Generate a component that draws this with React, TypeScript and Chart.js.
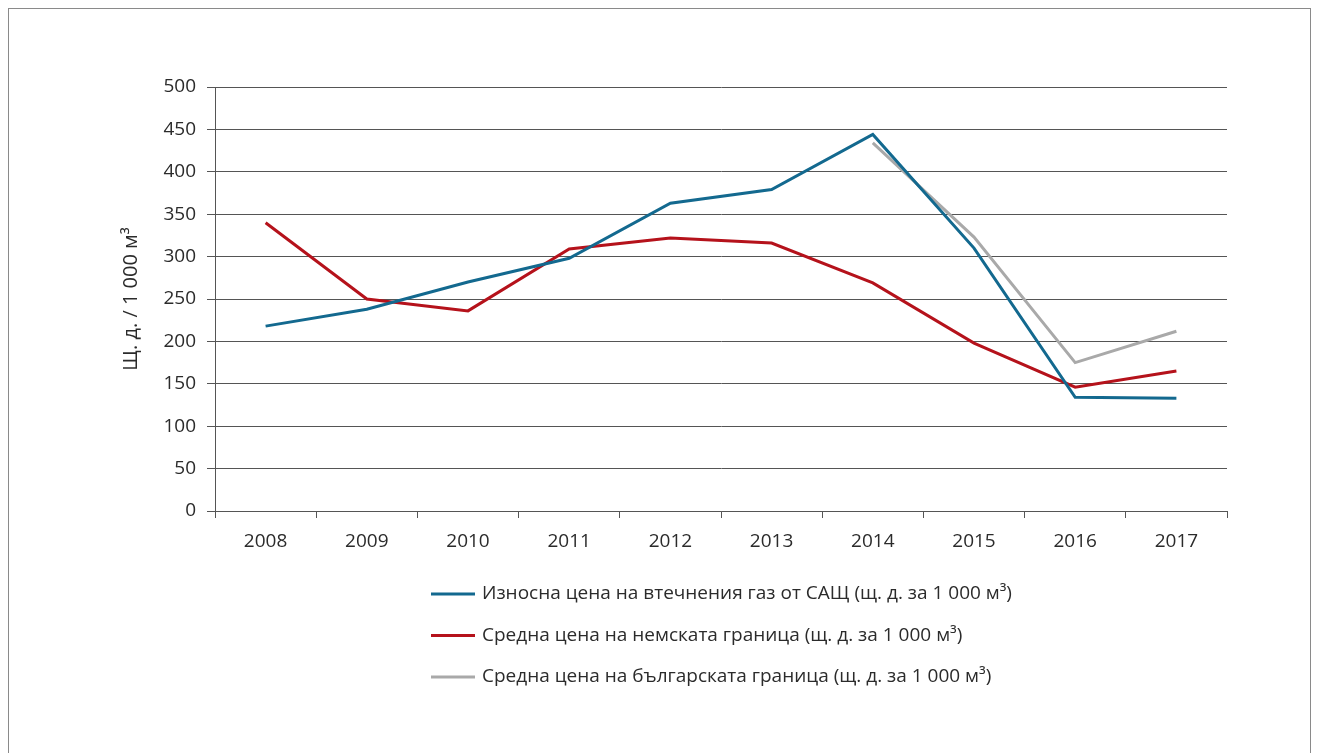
import { useEffect, useRef } from 'react';
import { Chart, registerables } from 'chart.js';

Chart.register(...registerables);

const years = ['2008', '2009', '2010', '2011', '2012', '2013', '2014', '2015', '2016', '2017'];
const usLngExport = [218, 238, 270, 298, 363, 379, 444, 310, 134, 133];
const germanBorder = [340, 250, 236, 309, 322, 316, 269, 198, 146, 165];
const bulgarianBorder = [null, null, null, null, null, null, 434, 323, 175, 212];
const seriesLabels = [
  'Износна цена на втечнения газ от САЩ (щ. д. за 1 000 м³)',
  'Средна цена на немската граница (щ. д. за 1 000 м³)',
  'Средна цена на българската граница (щ. д. за 1 000 м³)',
];
const seriesColors = ['#13698f', '#b5121b', '#a9a9a9'];
const yTitle = 'Щ. д. / 1 000 м³';
const yMin = 0;
const yMax = 500;
const yStep = 50;

const FONT = '"Open Sans", sans-serif';
const TEXT = '#2b2b2b';
const GRID = '#555555';

const W = 1301;
const H = 770;

const legendPlugin = {
  id: 'verticalLegend',
  afterDraw(chart: any) {
    const ctx = chart.ctx;
    ctx.save();
    chart.data.datasets.forEach((ds: any, i: number) => {
      const y = 585 + i * 41.5;
      ctx.strokeStyle = ds.borderColor;
      ctx.lineWidth = 3;
      ctx.beginPath();
      ctx.moveTo(422, y);
      ctx.lineTo(466, y);
      ctx.stroke();
      ctx.fillStyle = TEXT;
      ctx.font = `19px ${FONT}`;
      ctx.textBaseline = 'middle';
      ctx.textAlign = 'left';
      ctx.fillText(ds.label, 473, y);
    });
    ctx.restore();
  },
};

export default function App() {
  const ref = useRef<HTMLCanvasElement | null>(null);

  useEffect(() => {
    if (!ref.current) return;
    const chart = new Chart(ref.current, {
      type: 'line',
      data: {
        labels: years,
        datasets: [
          { label: seriesLabels[0], data: usLngExport, borderColor: seriesColors[0] },
          { label: seriesLabels[1], data: germanBorder, borderColor: seriesColors[1] },
          { label: seriesLabels[2], data: bulgarianBorder as any, borderColor: seriesColors[2] },
        ].map((d) => ({
          ...d,
          backgroundColor: d.borderColor,
          borderWidth: 3,
          pointRadius: 0,
          pointHoverRadius: 0,
          tension: 0,
          fill: false,
          spanGaps: false,
        })),
      },
      options: {
        responsive: false,
        animation: false,
        layout: { padding: { left: 107, top: 78, right: 83, bottom: 208 } },
        plugins: {
          legend: { display: false },
          tooltip: { enabled: false },
        },
        scales: {
          x: {
            offset: true,
            grid: {
              display: true,
              drawOnChartArea: false,
              drawTicks: true,
              tickLength: 7,
              color: GRID,
              lineWidth: 1,
              offset: true,
            },
            border: { display: true, color: GRID, width: 1 },
            ticks: { color: TEXT, font: { family: FONT, size: 19 }, padding: 12, maxRotation: 0 },
            afterFit: (s: any) => {
              s.height = 60;
            },
          },
          y: {
            min: yMin,
            max: yMax,
            ticks: { stepSize: yStep, color: TEXT, font: { family: FONT, size: 19 }, padding: 11 },
            grid: { color: GRID, lineWidth: 1, drawTicks: true, tickLength: 8 },
            border: { display: true, color: GRID, width: 1 },
            title: {
              display: true,
              text: yTitle,
              color: TEXT,
              font: { family: FONT, size: 20 },
              padding: { top: 3, bottom: 4 },
            },
            afterFit: (s: any) => {
              s.width = 99;
            },
          },
        },
      },
      plugins: [legendPlugin],
    });
    return () => chart.destroy();
  }, []);

  return (
    <div style={{ border: '1px solid #8a8a8a', width: W, height: H, background: '#fff' }}>
      <canvas ref={ref} width={W} height={H} style={{ display: 'block' }} />
    </div>
  );
}
